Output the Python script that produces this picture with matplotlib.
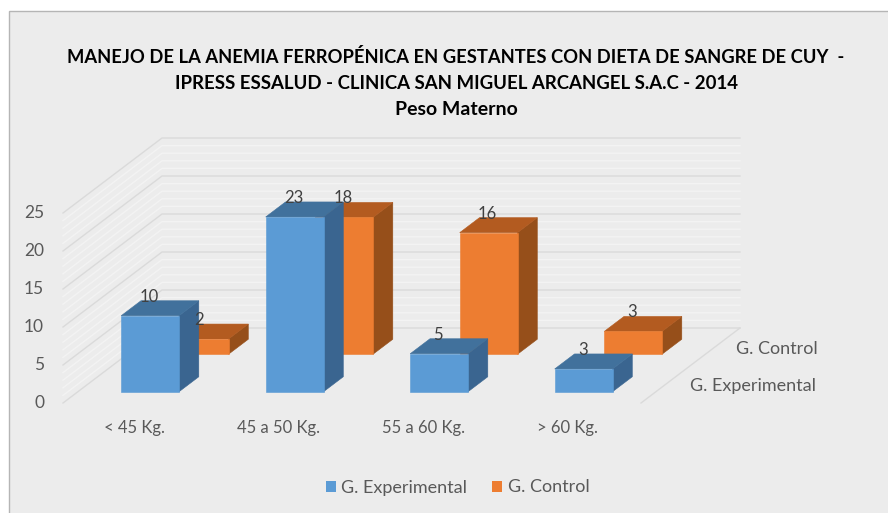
import matplotlib
matplotlib.use('Agg')
import matplotlib.pyplot as plt
from matplotlib.patches import Polygon, Rectangle, Patch

categories = ['< 45 Kg.', '45 a 50 Kg.', '55 a 60 Kg.', '> 60 Kg.']
series_names = ['G. Experimental', 'G. Control']
experimental = [10, 23, 5, 3]
control = [2, 18, 16, 3]
y_ticks = [0, 5, 10, 15, 20, 25]

title_lines = ['MANEJO DE LA ANEMIA FERROPÉNICA EN GESTANTES CON DIETA DE SANGRE DE CUY  -',
               'IPRESS ESSALUD - CLINICA SAN MIGUEL ARCANGEL S.A.C - 2014',
               'Peso Materno']

# colores: frente, arriba, lado
BLUE = ('#5B9BD5', '#41719C', '#3A6590')
ORANGE = ('#ED7D31', '#B35B20', '#964F1A')
BG = '#ECECEC'
TXT = '#595959'

plt.rcParams['font.family'] = ['Lato', 'DejaVu Sans']


def proj(cat, val, depth):
    # proyeccion oblicua (categoria, valor, serie) -> pixeles
    return (63 + 144.5 * cat + 49.5 * depth, 403 - 7.6 * val - 37.5 * depth)


fig = plt.figure(figsize=(8.88, 5.13), dpi=100, facecolor='white')
ax = fig.add_axes([0, 0, 1, 1])
ax.set_xlim(0, 888)
ax.set_ylim(513, 0)
ax.axis('off')

ax.add_patch(Rectangle((8.5, 10.5), 900, 600, facecolor=BG, edgecolor='#B5B5B5', lw=1, zorder=0))

n_cat = len(categories)
n_ser = len(series_names)

# rejilla menor y mayor en las paredes
for v in range(1, y_ticks[-1] + 1):
    if v % 5:
        pts = [proj(0, v, 0), proj(0, v, n_ser), proj(n_cat, v, n_ser)]
        ax.plot(*zip(*pts), color='#F3F3F3', lw=1, zorder=1)
for v in y_ticks:
    pts = [proj(0, v, 0), proj(0, v, n_ser), proj(n_cat, v, n_ser)]
    ax.plot(*zip(*pts), color='#DADADA', lw=1, zorder=2)
ax.plot(*zip(proj(n_cat, 0, n_ser), proj(n_cat, 0, 0)), color='#DADADA', lw=1, zorder=2)


def draw_bar(i, s, val, colors, z):
    x0, x1 = i + 0.3, i + 0.7
    d0, d1 = s + 0.3, s + 0.7
    front = [proj(x0, 0, d0), proj(x1, 0, d0), proj(x1, val, d0), proj(x0, val, d0)]
    top = [proj(x0, val, d0), proj(x1, val, d0), proj(x1, val, d1), proj(x0, val, d1)]
    side = [proj(x1, 0, d0), proj(x1, 0, d1), proj(x1, val, d1), proj(x1, val, d0)]
    for pts, c in zip((side, top, front), (colors[2], colors[1], colors[0])):
        ax.add_patch(Polygon(pts, closed=True, facecolor=c, edgecolor=c, lw=0.4, zorder=z))


# serie de atras primero
for s, (vals, colors) in reversed(list(enumerate(zip((experimental, control), (BLUE, ORANGE))))):
    for i, v in enumerate(vals):
        draw_bar(i, s, v, colors, 5 + (n_ser - s))

# etiquetas de datos
for s, vals in enumerate((experimental, control)):
    for i, v in enumerate(vals):
        x, _ = proj(i + 0.5, v, s + 0.3)
        _, y = proj(i + 0.5, v, s + 0.7)
        ax.text(x - 1, y - 4, str(v), ha='center', va='center', fontsize=12,
                color='#404040', zorder=10)

# ejes
for v in y_ticks:
    _, y = proj(0, v, 0)
    ax.text(44, y, str(v), ha='right', va='center', fontsize=12.5, color=TXT)
for i, c in enumerate(categories):
    x, _ = proj(i + 0.5, 0, 0)
    ax.text(x - 1, 428, c, ha='center', va='center', fontsize=12, color=TXT)
ax.text(816, 386, series_names[0], ha='right', va='center', fontsize=13, color=TXT)
ax.text(818, 349, series_names[1], ha='right', va='center', fontsize=13, color=TXT)

# titulo
for line, y, size in zip(title_lines, (57, 83.5, 109.5), (13.2, 13.4, 14)):
    ax.text(456, y, line, ha='center', va='center', fontsize=size, fontweight='bold', color='black')

handles = [Patch(facecolor=BLUE[0]), Patch(facecolor=ORANGE[0])]
ax.legend(handles, series_names, ncol=2, loc='center', bbox_to_anchor=(457.5, 487.5),
          bbox_transform=ax.transData, frameon=False, fontsize=13, labelcolor=TXT,
          handlelength=0.55, handleheight=0.55, handletextpad=0.3, columnspacing=1.4)

plt.savefig('out.png', dpi=100, facecolor='white')
plt.close()
